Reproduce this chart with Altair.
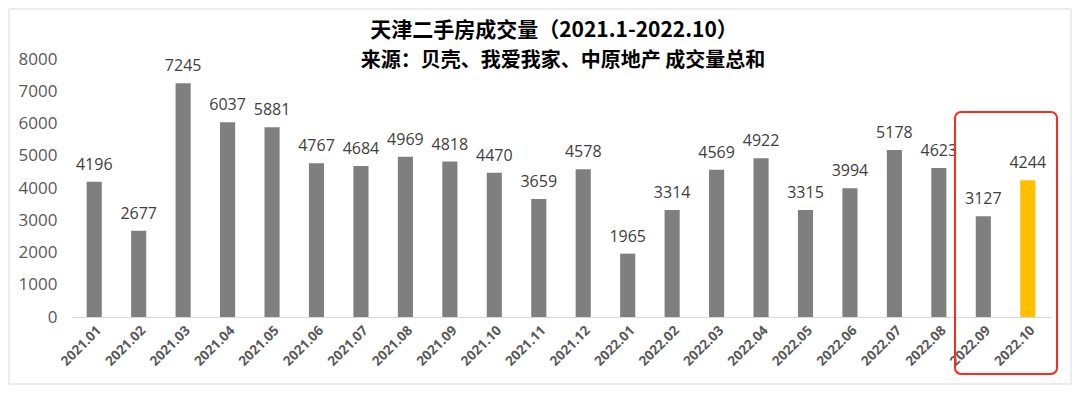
import altair as alt
import pandas as pd

months = ["2021.01","2021.02","2021.03","2021.04","2021.05","2021.06","2021.07","2021.08",
          "2021.09","2021.10","2021.11","2021.12","2022.01","2022.02","2022.03","2022.04",
          "2022.05","2022.06","2022.07","2022.08","2022.09","2022.10"]
volumes = [4196,2677,7245,6037,5881,4767,4684,4969,4818,4470,3659,4578,
           1965,3314,4569,4922,3315,3994,5178,4623,3127,4244]
y_ticks = [0, 1000, 2000, 3000, 4000, 5000, 6000, 7000, 8000]
highlight = ["2022.10"]
title_text = "天津二手房成交量（2021.1-2022.10）"
subtitle_text = "来源：贝壳、我爱我家、中原地产 成交量总和"

df = pd.DataFrame({"month": months, "volume": volumes})
df["hl"] = df["month"].isin(highlight)

W, H = 978, 258

x = alt.X("month:N", sort=months, title=None,
          scale=alt.Scale(paddingInner=0.66, paddingOuter=0.33),
          axis=alt.Axis(labelAngle=-45, labelFontSize=13.5, labelFontWeight="bold",
                        labelColor="#595959", labelFont="Open Sans", ticks=False,
                        domainColor="#d9d9d9", domainWidth=1, labelPadding=6))
y = alt.Y("volume:Q", title=None,
          scale=alt.Scale(domain=[0, 8000], nice=False),
          axis=alt.Axis(values=y_ticks, tickCount=9, format="d", grid=False,
                        domain=False, ticks=False, labelFontSize=17, labelOverlap=False,
                        labelColor="#595959", labelFont="Open Sans", labelPadding=15))

base = alt.Chart(df)
bars = base.mark_bar().encode(
    x=x, y=y,
    color=alt.condition(alt.datum.hl, alt.value("#ffc000"), alt.value("#7f7f7f")),
)
labels = base.mark_text(baseline="bottom", dy=-9, fontSize=16, color="#404040",
                        font="Open Sans").encode(x=x, y=y, text="volume:Q")

tdf = pd.DataFrame({"t": [title_text]})
title = alt.Chart(tdf).mark_text(fontSize=21, fontWeight="bold", color="#000000",
                                 font="Noto Sans CJK SC").encode(
    x=alt.value(482), y=alt.value(-28), text="t:N")
sdf = pd.DataFrame({"t": [subtitle_text]})
subtitle = alt.Chart(sdf).mark_text(fontSize=20, fontWeight="bold", color="#000000",
                                    font="Noto Sans CJK SC").encode(
    x=alt.value(491), y=alt.value(2), text="t:N")

frame = alt.Chart(tdf).mark_rect(fill=None, stroke="#d9d9d9", strokeWidth=1).encode(
    x=alt.value(-63), x2=alt.value(W + 21), y=alt.value(-50), y2=alt.value(H + 67))
box = alt.Chart(tdf).mark_rect(fill=None, stroke="#ff2a1a", strokeWidth=2,
                               cornerRadius=6).encode(
    x=alt.value(883), x2=alt.value(985), y=alt.value(53), y2=alt.value(315))

chart = alt.layer(frame, bars, labels, box, title, subtitle).properties(
    width=W, height=H,
    autosize=alt.AutoSizeParams(type="none"),
    padding={"left": 64, "top": 51, "right": 22, "bottom": 68},
).configure(background="white").configure_view(stroke=None, strokeWidth=0)

chart.save("out.html", embed_options={"renderer": "svg", "actions": False})
